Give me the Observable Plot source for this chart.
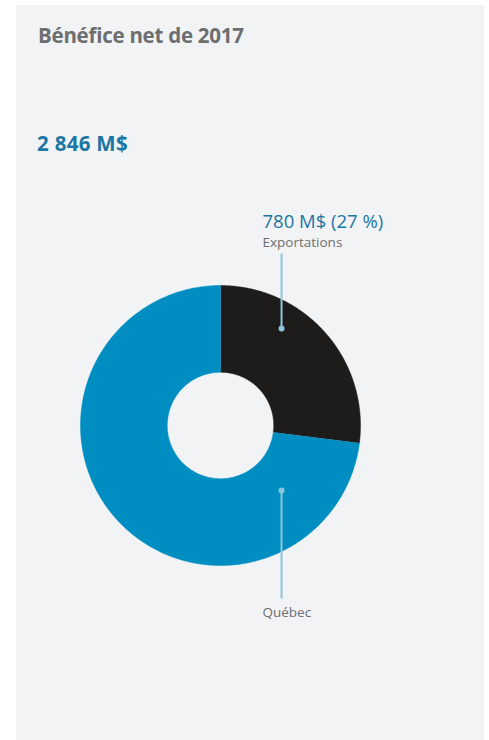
<!DOCTYPE html>
<html><head><meta charset="utf-8">
<script src="https://cdn.jsdelivr.net/npm/d3@7"></script>
<script src="https://cdn.jsdelivr.net/npm/@observablehq/plot@0.6"></script>
<style>
html,body{margin:0;padding:0;background:#fff;}
#panel{position:absolute;left:16px;top:5px;width:468px;height:735px;background:#f2f3f5;font-family:"Open Sans",sans-serif;}
#title{position:absolute;left:22px;top:16px;font-size:20.5px;font-weight:700;color:#6d6e70;white-space:nowrap;letter-spacing:-0.25px;}
#total{position:absolute;left:21px;top:124px;font-size:20.5px;font-weight:700;color:#1b76a3;white-space:nowrap;letter-spacing:0.3px;}
#chart{position:absolute;left:0;top:155px;}
</style></head>
<body><div id="panel"><div id="title"></div><div id="total"></div><div id="chart"></div></div>
<script>
const title = "Bénéfice net de 2017";
const totalLabel = "2 846 M$";
const categories = ["Exportations", "Québec"];
const shares = [27, 73];
const valueLabels = ["780 M$ (27 %)", ""];
const colors = ["#1d1c1a", "#008ec2"];

document.getElementById("title").textContent = title;
document.getElementById("total").textContent = totalLabel;

// build slice polygons (angle clockwise from 12 o'clock), outer radius 1, inner 0.38
const inner = 0.38;
const total = d3.sum(shares);
const pts = [];
let start = 0;
shares.forEach((s, i) => {
  const a0 = start / total * 2 * Math.PI, a1 = (start + s) / total * 2 * Math.PI;
  const n = 240;
  for (let k = 0; k <= n; k++) { const a = a0 + (a1 - a0) * k / n; pts.push({cat: categories[i], x: Math.sin(a), y: Math.cos(a)}); }
  for (let k = n; k >= 0; k--) { const a = a0 + (a1 - a0) * k / n; pts.push({cat: categories[i], x: inner * Math.sin(a), y: inner * Math.cos(a)}); }
  start += s;
});

// annotation layout (units of outer radius)
const leaderX = 0.436;
const ann = [
  {cat: categories[0], y1: 0.693, y2: 1.229},
  {cat: categories[1], y1: -0.464, y2: -1.236}
];

const W = 468, H = 560;
const plot = Plot.plot({
  width: W, height: H,
  marginLeft: 64, marginRight: W - 344, marginTop: 125, marginBottom: H - 405,
  x: {domain: [-1, 1], axis: null},
  y: {domain: [-1, 1], axis: null},
  color: {domain: categories, range: colors},
  style: {background: "transparent", fontFamily: "Open Sans, sans-serif"},
  marks: [
    Plot.line(pts, {x: "x", y: "y", z: "cat", fill: "cat", stroke: "cat", strokeWidth: 0.5, curve: "linear"}),
    Plot.link(ann, {x1: leaderX, x2: leaderX, y1: "y1", y2: "y2", stroke: "#8ec5dd", strokeWidth: 2}),
    Plot.dot(ann, {x: leaderX, y: "y1", r: 3, fill: "#8ec5dd", stroke: null}),
    Plot.text([valueLabels[0]], {x: 0.3, y: 1.407, text: d => d, textAnchor: "start", fill: "#1b76a3", fontSize: 18.5, dy: -6}),
    Plot.text([categories[0]], {x: 0.3, y: 1.286, text: d => d, textAnchor: "start", fill: "#6d6e70", fontSize: 13.5, dy: -3}),
    Plot.text([categories[1]], {x: 0.3, y: -1.364, text: d => d, textAnchor: "start", fill: "#6d6e70", fontSize: 13.5, dy: -4})
  ]
});
document.getElementById("chart").appendChild(plot);
</script></body></html>
